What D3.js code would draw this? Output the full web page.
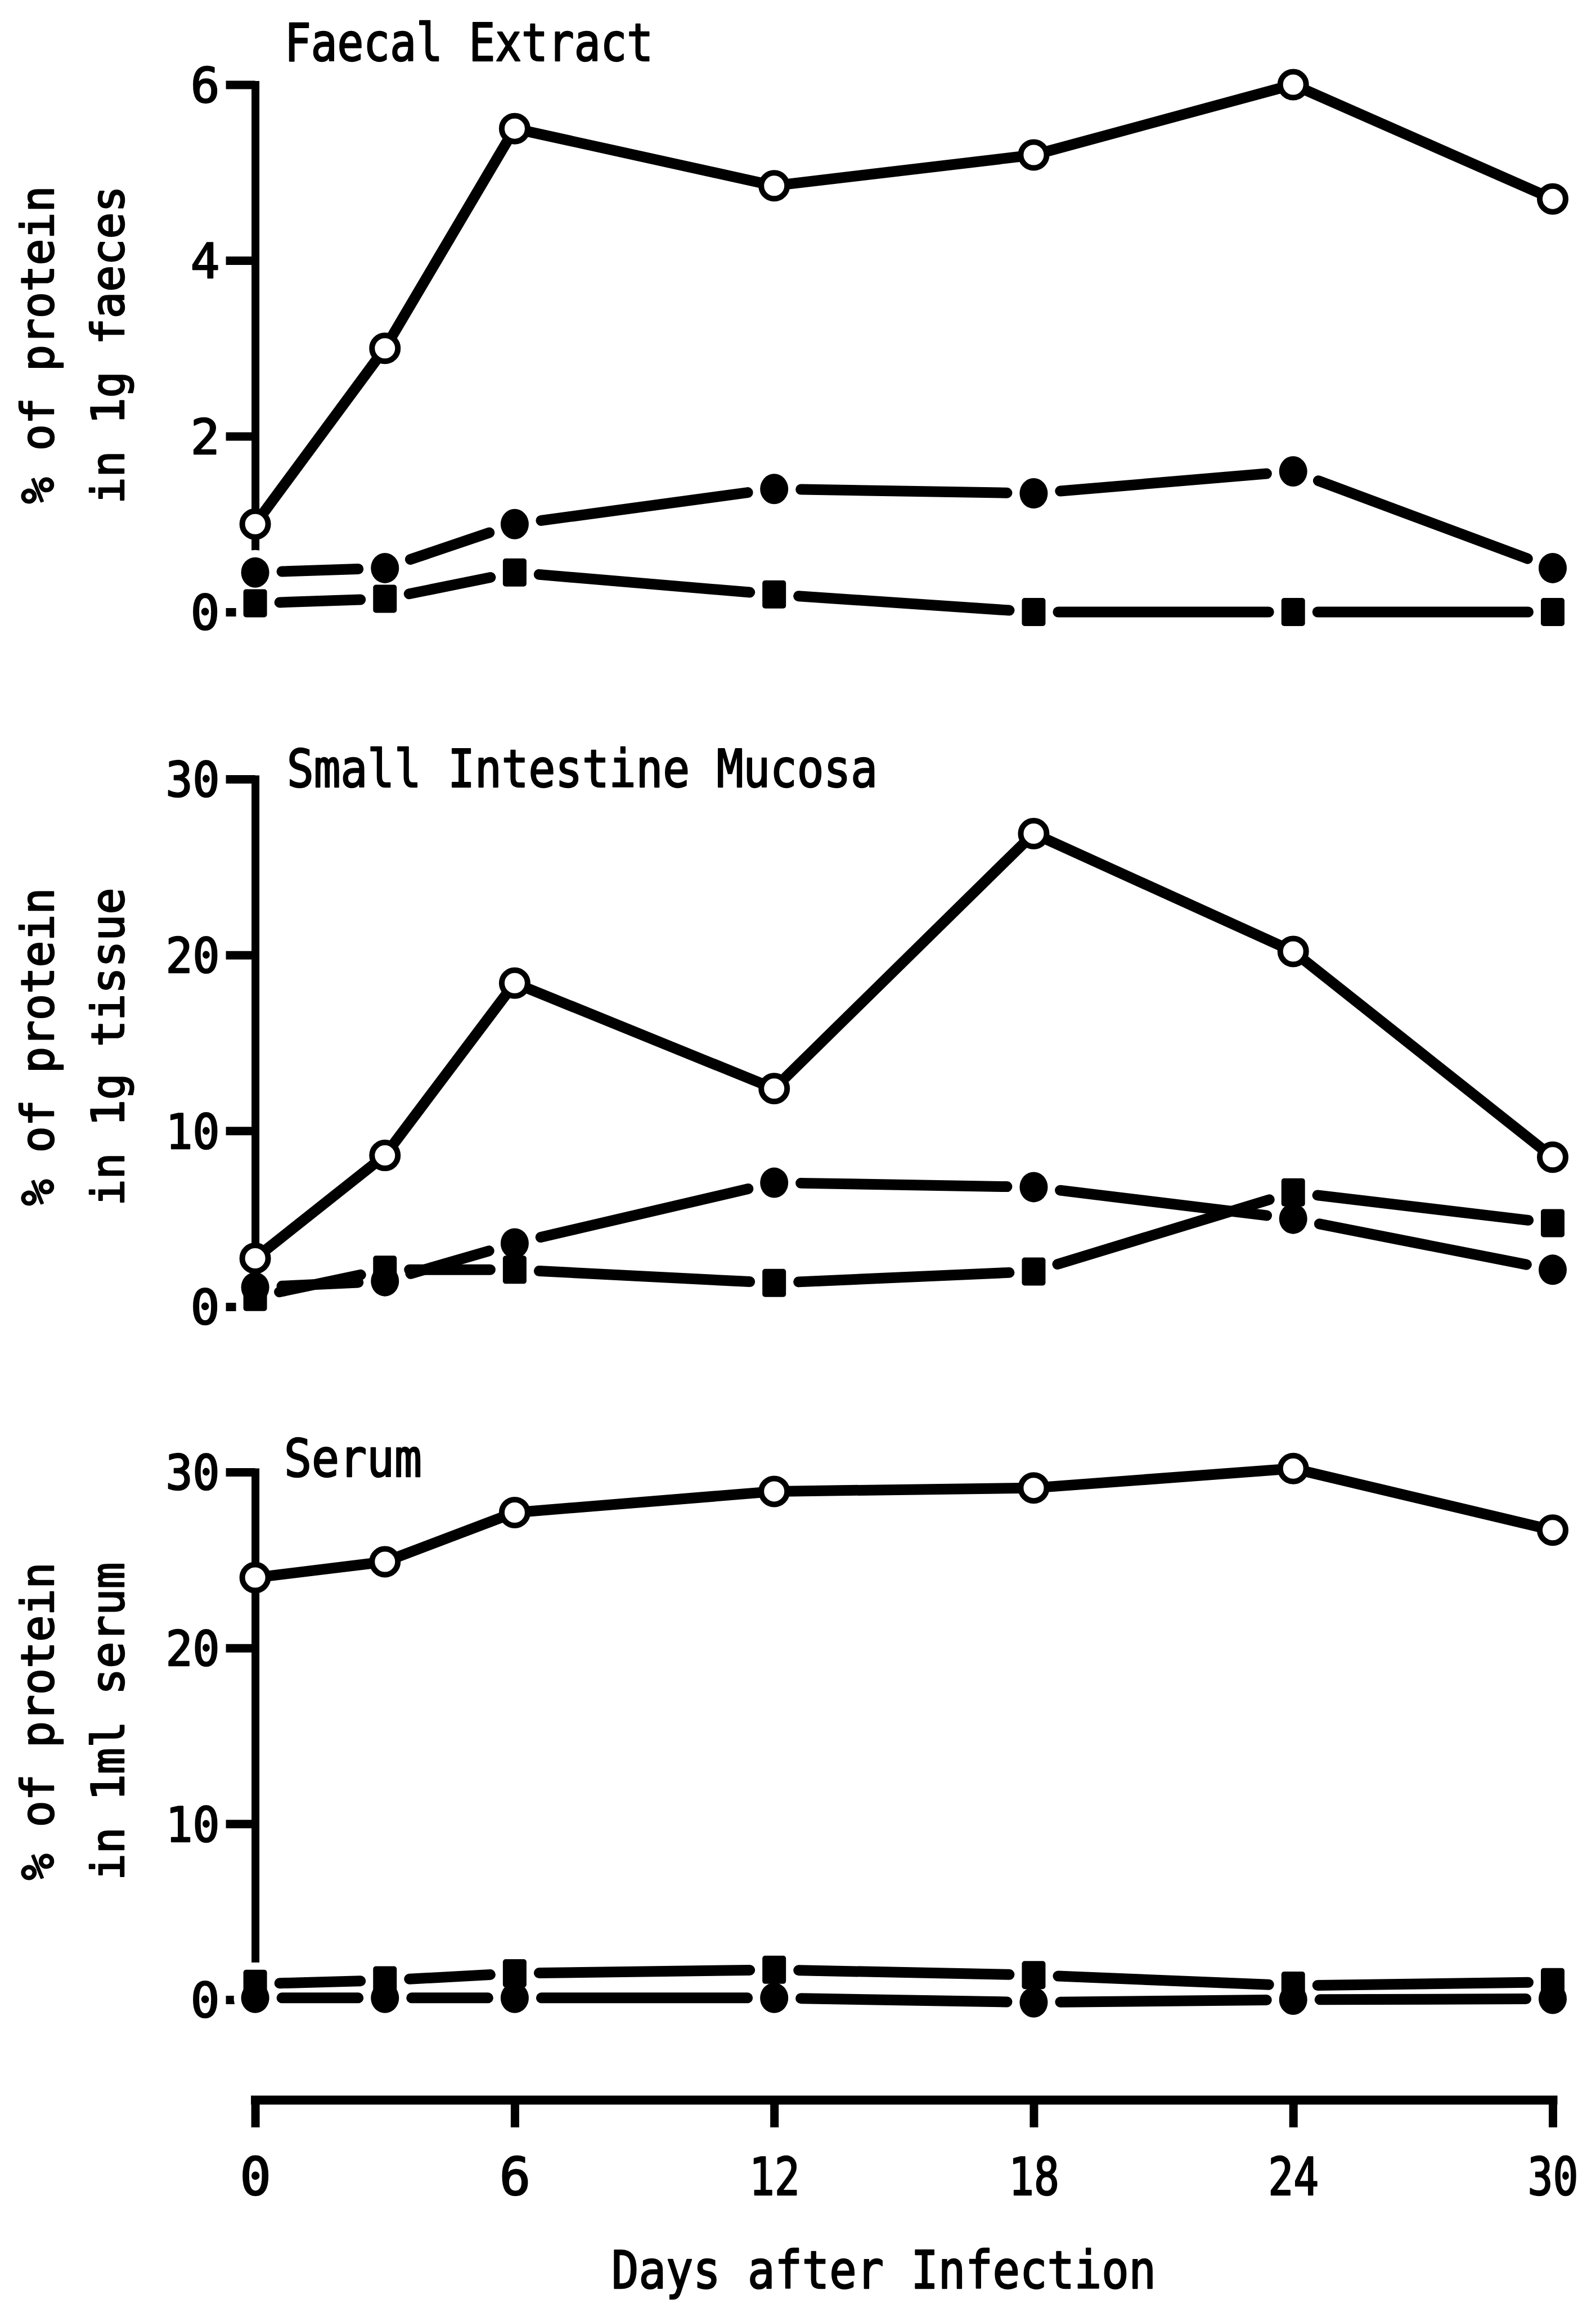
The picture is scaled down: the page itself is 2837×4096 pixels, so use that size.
<!DOCTYPE html>
<html>
<head>
<meta charset="utf-8">
<script src="https://cdn.jsdelivr.net/npm/d3@7"></script>
<style>
  html, body { margin: 0; padding: 0; background: #fff; }
  svg { display: block; }
</style>
</head>
<body>
<svg id="chart" width="2837" height="4096"></svg>
<script>
// ---- data -------------------------------------------------------------
const days   = [0, 3, 6, 12, 18, 24, 30];
const xTicks = [0, 6, 12, 18, 24, 30];

// Faecal extract: % of protein in 1 g faeces
const faecalOpen   = [1.0, 3.0, 5.5, 4.85, 5.2, 6.0, 4.7];
const faecalCircle = [0.45, 0.5, 1.0, 1.4, 1.35, 1.6, 0.5];
const faecalSquare = [0.1, 0.15, 0.45, 0.2, 0.0, 0.0, 0.0];
const faecalTicks  = [0, 2, 4, 6];

// Small intestine mucosa: % of protein in 1 g tissue
const mucosaOpen   = [2.75, 8.6, 18.4, 12.4, 26.9, 20.2, 8.5];
const mucosaCircle = [1.1, 1.45, 3.6, 7.05, 6.8, 5.0, 2.1];
const mucosaSquare = [0.55, 2.1, 2.1, 1.35, 2.0, 6.5, 4.75];
const mucosaTicks  = [0, 10, 20, 30];

// Serum: % of protein in 1 ml serum
const serumOpen   = [24.0, 24.9, 27.7, 28.9, 29.1, 30.2, 26.7];
const serumCircle = [0.1, 0.1, 0.1, 0.1, -0.15, 0.0, 0.05];
const serumSquare = [0.9, 1.1, 1.5, 1.7, 1.4, 0.8, 1.0];
const serumTicks  = [0, 10, 20, 30];

const panelTitles = ["Faecal Extract", "Small Intestine Mucosa", "Serum"];
const yLabelTop   = ["% of protein", "% of protein", "% of protein"];
const yLabelBot   = ["in 1g faeces", "in 1g tissue", "in 1ml serum"];
const xTitle      = "Days after Infection";

// ---- layout -----------------------------------------------------------
const FONT = "'DejaVu Sans Mono', 'Liberation Mono', monospace";
const X_LEFT = 453.6, X_RIGHT = 2760;

const panels = [
  { title: panelTitles[0], yMax: 6,  ticks: faecalTicks, top: 150.5, zero: 1088,
    open: faecalOpen, circle: faecalCircle, square: faecalSquare,
    titleX: 506, titleY: 108, titleLen: 655, labelCY: 613, lab1: yLabelTop[0], lab2: yLabelBot[0] },
  { title: panelTitles[1], yMax: 30, ticks: mucosaTicks, top: 1385, zero: 2323,
    open: mucosaOpen, circle: mucosaCircle, square: mucosaSquare,
    titleX: 510, titleY: 1399, titleLen: 1050, labelCY: 1861, lab1: yLabelTop[1], lab2: yLabelBot[1] },
  { title: panelTitles[2], yMax: 30, ticks: serumTicks, top: 2617, zero: 3555,
    open: serumOpen, circle: serumCircle, square: serumSquare,
    titleX: 505, titleY: 2625, titleLen: 245, labelCY: 3060, lab1: yLabelTop[2], lab2: yLabelBot[2] }
];

const LINE_W = 19;                  // connecting lines
const CIRC_RX = 25, CIRC_RY = 27;   // filled circles
const SQ_W = 42, SQ_H = 50;         // filled squares
const OPEN_R = 23, OPEN_SW = 10;    // open circles
const GAP = 13;                     // white gap around filled markers

// typewriter-like text: regular face thickened with a thin outline
function typeText(sel, size) {
  return sel.attr("font-family", FONT).attr("font-weight", "normal")
    .attr("font-size", size).attr("fill", "#000")
    .attr("stroke", "#000").attr("stroke-width", 2.5).attr("stroke-linejoin", "round");
}

const svg = d3.select("#chart");
const x = d3.scaleLinear().domain([0, 30]).range([X_LEFT, X_RIGHT]);

// distance from a marker centre to its outline along unit direction (ux, uy)
function edgeDist(shape, ux, uy) {
  if (shape === "circle") {
    return 1 / Math.sqrt((ux / CIRC_RX) ** 2 + (uy / CIRC_RY) ** 2);
  }
  const hw = SQ_W / 2, hh = SQ_H / 2;
  const a = Math.abs(ux) > 1e-6 ? hw / Math.abs(ux) : Infinity;
  const b = Math.abs(uy) > 1e-6 ? hh / Math.abs(uy) : Infinity;
  return Math.min(a, b);
}

panels.forEach(p => {
  const y = d3.scaleLinear().domain([0, p.yMax]).range([p.zero, p.top]);
  const g = svg.append("g");

  // y axis
  const yAxis = d3.axisLeft(y).tickValues(p.ticks).tickFormat(d3.format("d"))
    .tickSize(52).tickSizeOuter(0).tickPadding(11);
  const ya = g.append("g").attr("transform", `translate(${X_LEFT},0)`).call(yAxis);
  ya.select(".domain").attr("stroke", "#000").attr("stroke-width", 14).attr("stroke-linecap", "square");
  ya.selectAll(".tick line").attr("stroke", "#000").attr("stroke-width", 15);
  typeText(ya.selectAll(".tick text"), 86).attr("dy", "0.36em")
    .each(function () {
      const t = d3.select(this);
      if (t.text().length === 2) t.attr("textLength", 96).attr("lengthAdjust", "spacingAndGlyphs");
    });

  // panel title
  typeText(g.append("text"), 92)
    .attr("x", p.titleX).attr("y", p.titleY)
    .attr("textLength", p.titleLen).attr("lengthAdjust", "spacingAndGlyphs")
    .text(p.title);

  // two-line rotated y label
  [[p.lab1, 95], [p.lab2, 220]].forEach(([txt, bx]) => {
    typeText(g.append("text"), 80)
      .attr("transform", `translate(${bx},${p.labelCY}) rotate(-90)`)
      .attr("text-anchor", "middle")
      .attr("textLength", 565).attr("lengthAdjust", "spacingAndGlyphs")
      .text(txt);
  });

  const series = [
    { shape: "circle", vals: p.circle },
    { shape: "square", vals: p.square }
  ];

  // white halos that break the axis around the filled markers
  series.forEach(s => {
    const pts = days.map((d, i) => ({ cx: x(d), cy: y(s.vals[i]) }));
    if (s.shape === "circle") {
      g.append("g").selectAll("ellipse").data(pts).join("ellipse")
        .attr("cx", d => d.cx).attr("cy", d => d.cy)
        .attr("rx", CIRC_RX + GAP).attr("ry", CIRC_RY + GAP).attr("fill", "#fff");
    } else {
      g.append("g").selectAll("rect").data(pts).join("rect")
        .attr("x", d => d.cx - SQ_W / 2 - GAP).attr("y", d => d.cy - SQ_H / 2 - GAP)
        .attr("width", SQ_W + 2 * GAP).attr("height", SQ_H + 2 * GAP).attr("fill", "#fff");
    }
  });

  // filled series: segments stop short of each marker
  series.forEach(s => {
    const pts = days.map((d, i) => [x(d), y(s.vals[i])]);
    const segs = d3.pairs(pts).map(([a, b]) => {
      const dx = b[0] - a[0], dy = b[1] - a[1];
      const len = Math.hypot(dx, dy);
      const ux = dx / len, uy = dy / len;
      const c = edgeDist(s.shape, ux, uy) + GAP + LINE_W / 2;
      return { x1: a[0] + ux * c, y1: a[1] + uy * c, x2: b[0] - ux * c, y2: b[1] - uy * c };
    });
    g.append("g").selectAll("line").data(segs).join("line")
      .attr("x1", d => d.x1).attr("y1", d => d.y1)
      .attr("x2", d => d.x2).attr("y2", d => d.y2)
      .attr("stroke", "#000").attr("stroke-width", LINE_W).attr("stroke-linecap", "round");

    if (s.shape === "circle") {
      g.append("g").selectAll("ellipse").data(pts).join("ellipse")
        .attr("cx", d => d[0]).attr("cy", d => d[1])
        .attr("rx", CIRC_RX).attr("ry", CIRC_RY).attr("fill", "#000");
    } else {
      g.append("g").selectAll("rect").data(pts).join("rect")
        .attr("x", d => d[0] - SQ_W / 2).attr("y", d => d[1] - SQ_H / 2)
        .attr("width", SQ_W).attr("height", SQ_H).attr("rx", 5).attr("fill", "#000");
    }
  });

  // open-circle series: continuous line
  const openPts = days.map((d, i) => ({ day: d, v: p.open[i] }));
  const line = d3.line().x(d => x(d.day)).y(d => y(d.v));
  g.append("path").datum(openPts)
    .attr("d", line).attr("fill", "none").attr("stroke", "#000")
    .attr("stroke-width", LINE_W).attr("stroke-linejoin", "round");
  g.append("g").selectAll("circle").data(openPts).join("circle")
    .attr("cx", d => x(d.day)).attr("cy", d => y(d.v)).attr("r", OPEN_R)
    .attr("fill", "#fff").attr("stroke", "#000").attr("stroke-width", OPEN_SW);
});

// shared x axis
const X_AXIS_Y = 3733;
const xAxis = d3.axisBottom(x).tickValues(xTicks).tickSize(49).tickSizeOuter(0);
const xa = svg.append("g").attr("transform", `translate(0,${X_AXIS_Y})`).call(xAxis);
xa.select(".domain").attr("stroke", "#000").attr("stroke-width", 16).attr("stroke-linecap", "square");
xa.selectAll(".tick line").attr("stroke", "#000").attr("stroke-width", 15);
typeText(xa.selectAll(".tick text"), 92).attr("y", 169).attr("dy", 0)
  .each(function () {
    const t = d3.select(this);
    if (t.text().length === 2) t.attr("textLength", 90).attr("lengthAdjust", "spacingAndGlyphs");
  });

typeText(svg.append("text"), 92)
  .attr("x", 1571).attr("y", 4068).attr("text-anchor", "middle")
  .attr("textLength", 968).attr("lengthAdjust", "spacingAndGlyphs")
  .text(xTitle);
</script>
</body>
</html>
